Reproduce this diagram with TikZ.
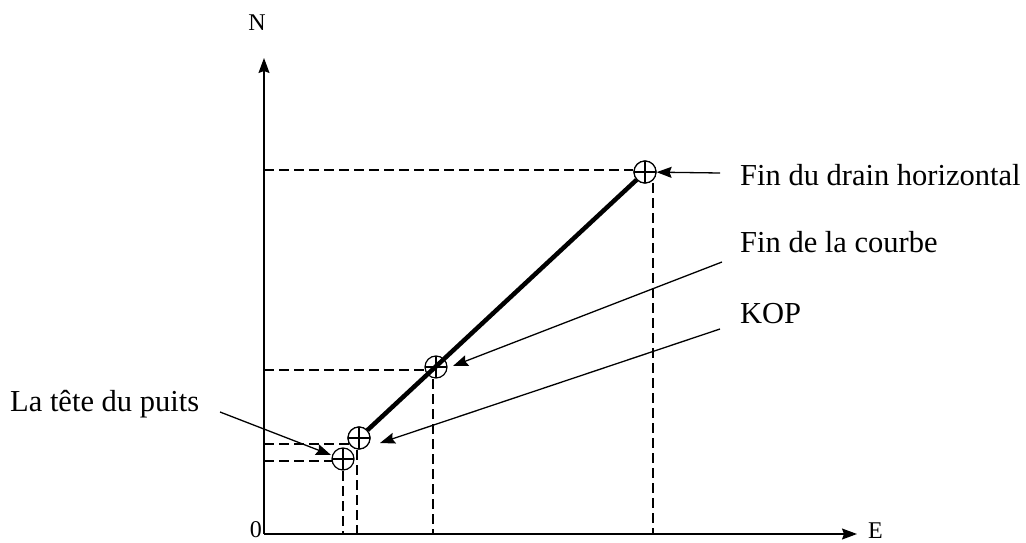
\documentclass[tikz,border=0pt]{standalone}
\usepackage{fontspec}
\setmainfont{Liberation Serif}
\usetikzlibrary{arrows.meta,calc,positioning}
\tikzset{
  every node/.style={text=black},
  axis/.style={-{Stealth[length=15pt,width=11pt,inset=2pt]}, draw=black, line width=1.4pt},
  guide/.style={draw=black, line width=1.3pt, dash pattern=on 10pt off 5pt},
  drain/.style={draw=black, line width=4.5pt},
  pointer/.style={-{Stealth[length=15pt,width=11pt,inset=2pt]}, draw=black, line width=1.3pt},
  wellmark/.style={circle, draw=black, line width=1.2pt, fill=white, minimum size=22pt, inner sep=0pt,
    path picture={\draw[line width=1.2pt] (path picture bounding box.north) -- (path picture bounding box.south)
      (path picture bounding box.west) -- (path picture bounding box.east);}},
  annot/.style={font=\fontsize{30.5}{36}\selectfont, anchor=base west, inner sep=0pt},
  axisname/.style={font=\fontsize{24}{28}\selectfont, inner sep=0pt},
}

\begin{document}
\begin{tikzpicture}[x=1pt,y=-1pt]
  \useasboundingbox (0,0) rectangle (1026,543);
  % Axes
  \coordinate (o) at (264,534);
  \coordinate (ntop) at (264,58);
  \coordinate (eend) at (857,534);
  \draw[axis] (o) -- (ntop);
  \draw[axis] (o) -- (eend);
  \node[axisname, anchor=base] (nname) at (257,31) {N};
  \node[axisname, anchor=base west] (ename) at (868,538) {E};
  \node[axisname, anchor=base east, text depth=0pt] (oname) at (262,537) {0};
  % Survey points
  \node[wellmark] (tete) at (343,459) {};
  \node[wellmark] (kop) at (359,438) {};
  \node[wellmark] (courbe) at (436,367) {};
  \node[wellmark] (fin) at (645,172) {};
  % Projection lines
  \draw[guide] (o |- 0,170) -- (fin.west |- 0,170);
  \draw[guide] (653,183) -- (653,534);
  \draw[guide] (o |- 0,370) -- (courbe.west |- 0,370);
  \draw[guide] (433,379) -- (433,534);
  \draw[guide] (o |- 0,444) -- (350,444);
  \draw[guide] (357,450) -- (357,534);
  \draw[guide] (o |- 0,461) -- (332,461);
  \draw[guide] (343,471) -- (343,534);
  % Drain path
  \draw[drain] (kop) -- (fin);
  \node[wellmark] at (kop) {};
  \node[wellmark] at (fin) {};
  % Labels and pointers
  \node[annot] (drainlabel) at (740,185) {Fin du drain horizontal};
  \node[annot] (courbelabel) at (740,252) {Fin de la courbe};
  \node[annot] (koplabel) at (740,323) {KOP};
  \node[annot] (tetelabel) at (10,411) {La tête du puits};
  \coordinate (drainfrom) at (720,173);
  \coordinate (courbefrom) at (722,262);
  \coordinate (courbetip) at (453,366);
  \coordinate (kopfrom) at (720,329);
  \coordinate (koptip) at (380,443);
  \coordinate (tetefrom) at (220,412);
  \coordinate (tetetip) at (331,455);
  \draw[pointer] (drainfrom) -- (fin);
  \draw[pointer] (courbefrom) -- (courbetip);
  \draw[pointer] (kopfrom) -- (koptip);
  \draw[pointer] (tetefrom) -- (tetetip);
\end{tikzpicture}
\end{document}
